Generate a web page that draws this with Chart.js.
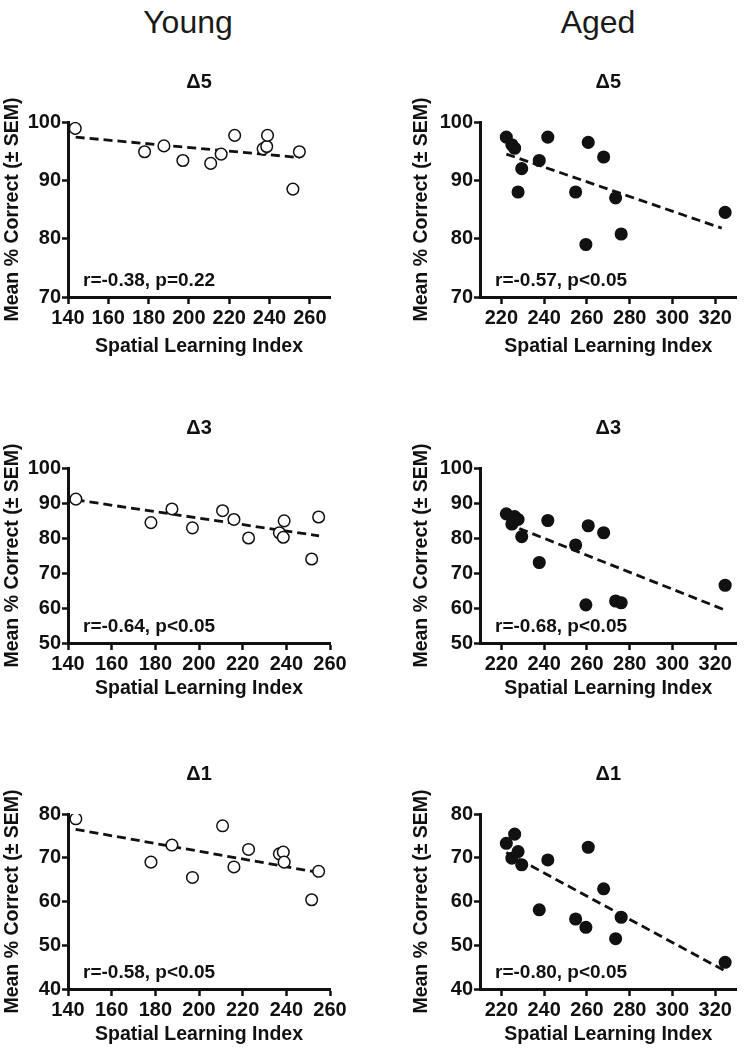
<!DOCTYPE html>
<html>
<head>
<meta charset="utf-8">
<script src="https://cdn.jsdelivr.net/npm/chart.js@4.4.1/dist/chart.umd.min.js"></script>
<style>
  html, body { margin: 0; padding: 0; background: #fff; overflow: hidden; }
  #page { position: relative; width: 744px; height: 1050px; }
  .col-title { position: absolute; top: 6px; font: 32px/32px "Liberation Sans", Arial, sans-serif; color: #1a1a1a; transform: translateX(-50%); }
  canvas { position: absolute; }
</style>
</head>
<body>
<div id="page">
  <div class="col-title" style="left:188px">Young</div>
  <div class="col-title" style="left:598px">Aged</div>
  <canvas id="young5"></canvas>
  <canvas id="aged5"></canvas>
  <canvas id="young3"></canvas>
  <canvas id="aged3"></canvas>
  <canvas id="young1"></canvas>
  <canvas id="aged1"></canvas>
</div>
<script>
// spatial learning index of each rat
const youngX = [143.6, 178.0, 187.6, 197.0, 210.8, 216.0, 222.7, 236.8, 238.6, 239.0, 251.6, 254.8];
const agedX = [222.3, 224.9, 226.2, 227.8, 229.5, 237.7, 241.7, 254.7, 259.5, 260.6, 267.8, 273.4, 276.0, 324.6];

// mean % correct per delay
const youngD5 = [98.9, 94.9, 95.9, 93.4, 92.9, 94.5, 97.7, 95.4, 95.8, 97.7, 88.5, 94.9];
const youngD3 = [91.1, 84.4, 88.3, 82.9, 87.8, 85.3, 80.0, 81.5, 80.2, 84.9, 74.0, 86.0];
const youngD1 = [78.9, 69.0, 72.9, 65.5, 77.3, 67.9, 71.9, 70.9, 71.3, 69.0, 60.4, 66.9];
const agedD5 = [97.4, 96.1, 95.5, 88.0, 92.0, 93.4, 97.4, 88.0, 79.0, 96.5, 94.0, 87.0, 80.8, 84.5];
const agedD3 = [86.9, 84.0, 86.1, 85.3, 80.4, 73.0, 85.0, 78.0, 60.9, 83.5, 81.5, 62.0, 61.5, 66.5];
const agedD1 = [73.3, 69.9, 75.4, 71.4, 68.4, 58.1, 69.5, 56.0, 54.1, 72.4, 62.9, 51.5, 56.4, 46.1];

// regression line end points
const youngFitX5 = [143.8, 255.0], youngFitY5 = [97.4, 93.9];
const youngFitX3 = [143.5, 255.0], youngFitY3 = [90.9, 80.6];
const youngFitX1 = [143.5, 254.0], youngFitY1 = [76.5, 66.7];
const agedFitX5 = [222.3, 323.0], agedFitY5 = [94.5, 81.8];
const agedFitX3 = [222.3, 325.0], agedFitY3 = [84.2, 59.3];
const agedFitX1 = [222.3, 325.0], agedFitY1 = [71.2, 44.0];

// ticks and labels
const youngXTicks = [140, 160, 180, 200, 220, 240, 260];
const agedXTicks = [220, 240, 260, 280, 300, 320];
const yTicksD5 = [70, 80, 90, 100];
const yTicksD3 = [50, 60, 70, 80, 90, 100];
const yTicksD1 = [40, 50, 60, 70, 80];
const delayTitles = ['\u03945', '\u03943', '\u03941'];
const youngStats = ['r=-0.38, p=0.22', 'r=-0.64, p<0.05', 'r=-0.58, p<0.05'];
const agedStats = ['r=-0.57, p<0.05', 'r=-0.68, p<0.05', 'r=-0.80, p<0.05'];

const FONT = '"Liberation Sans", Arial, Helvetica, sans-serif';
const INK = '#111';
Chart.defaults.font.family = FONT;
Chart.defaults.color = INK;

// draws the Δ title above the plot and the r/p note inside it
const panelText = {
  id: 'panelText',
  afterDraw(chart, args, opts) {
    const { ctx, chartArea } = chart;
    ctx.save();
    ctx.fillStyle = INK;
    ctx.textBaseline = 'middle';
    ctx.textAlign = 'center';
    ctx.font = 'bold 20px ' + FONT;
    ctx.fillText(opts.title, (chartArea.left + chartArea.right) / 2, chartArea.top - 40);
    ctx.textAlign = 'left';
    ctx.font = 'bold 19px ' + FONT;
    ctx.fillText(opts.stat, chartArea.left + 15, chartArea.bottom - 16);
    ctx.restore();
  }
};

function axisStyle(tickLength, tickPad) {
  return {
    grid: { drawOnChartArea: false, drawTicks: true, tickLength: tickLength, tickWidth: 2.5, tickColor: INK },
    border: { display: true, color: INK, width: 3 },
    ticks: { padding: tickPad, color: INK, font: { size: 20, weight: 'bold' }, maxRotation: 0, autoSkip: false }
  };
}

function makePanel(id, p) {
  const canvas = document.getElementById(id);
  canvas.width = p.w;
  canvas.height = p.h;
  canvas.style.left = p.left + 'px';
  canvas.style.top = p.top + 'px';

  const xAxis = axisStyle(7, 2);
  const yAxis = axisStyle(6, 1);

  new Chart(canvas, {
    type: 'scatter',
    data: {
      datasets: [
        {
          data: p.xs.map((x, i) => ({ x: x, y: p.ys[i] })),
          pointRadius: 5.8,
          pointHoverRadius: 5.8,
          pointBackgroundColor: p.filled ? INK : '#fff',
          pointBorderColor: INK,
          pointBorderWidth: 1.5,
          order: 1
        },
        {
          type: 'line',
          data: p.fitX.map((x, i) => ({ x: x, y: p.fitY[i] })),
          borderColor: INK,
          borderWidth: 2.8,
          borderDash: [9, 5],
          pointRadius: 0,
          fill: false,
          order: 2
        }
      ]
    },
    options: {
      responsive: false,
      animation: false,
      events: [],
      layout: { padding: { top: 60, left: 0, right: p.padRight, bottom: 0 } },
      plugins: {
        legend: { display: false },
        tooltip: { enabled: false },
        panelText: { title: p.title, stat: p.stat }
      },
      scales: {
        x: {
          type: 'linear',
          position: 'bottom',
          min: p.xMin,
          max: p.xMax,
          grid: xAxis.grid,
          border: xAxis.border,
          ticks: xAxis.ticks,
          afterBuildTicks: s => { s.ticks = p.xTicks.map(v => ({ value: v })); },
          afterFit: s => { s.height = p.xH; },
          title: { display: true, text: 'Spatial Learning Index', color: INK, font: { size: 19.5, weight: 'bold' }, padding: { top: 0, bottom: 0 } }
        },
        y: {
          type: 'linear',
          position: 'left',
          min: p.yMin,
          max: p.yMax,
          grid: yAxis.grid,
          border: yAxis.border,
          ticks: yAxis.ticks,
          afterBuildTicks: s => { s.ticks = p.yTicks.map(v => ({ value: v })); },
          afterFit: s => { s.width = p.yW; },
          title: { display: true, text: 'Mean % Correct (\u00b1 SEM)', color: INK, font: { size: 19.5, weight: 'bold' }, padding: { top: p.yTitlePad, bottom: 0 } }
        }
      }
    },
    plugins: [panelText]
  });
}

const plotTops = [122, 468, 814];
const rows = [
  { yMin: 70, yMax: 100, yTicks: yTicksD5, young: youngD5, aged: agedD5,
    yFX: youngFitX5, yFY: youngFitY5, aFX: agedFitX5, aFY: agedFitY5, youngMax: 270, xH: 61 },
  { yMin: 50, yMax: 100, yTicks: yTicksD3, young: youngD3, aged: agedD3,
    yFX: youngFitX3, yFY: youngFitY3, aFX: agedFitX3, aFY: agedFitY3, youngMax: 260, xH: 57 },
  { yMin: 40, yMax: 80, yTicks: yTicksD1, young: youngD1, aged: agedD1,
    yFX: youngFitX1, yFY: youngFitY1, aFX: agedFitX1, aFY: agedFitY1, youngMax: 260, xH: 57 }
];
const ids = [['young5', 'aged5'], ['young3', 'aged3'], ['young1', 'aged1']];

rows.forEach((r, i) => {
  const top = plotTops[i] - 60;
  const h = 60 + 175 + r.xH;
  makePanel(ids[i][0], {
    left: 0, top: top, w: 350, h: h, padRight: 20, yW: 68, yTitlePad: 1, xH: r.xH,
    xMin: 140, xMax: r.youngMax, xTicks: youngXTicks,
    yMin: r.yMin, yMax: r.yMax, yTicks: r.yTicks,
    xs: youngX, ys: r.young, fitX: r.yFX, fitY: r.yFY, filled: false,
    title: delayTitles[i], stat: youngStats[i]
  });
  makePanel(ids[i][1], {
    left: 407, top: top, w: 337, h: h, padRight: 2, yW: 73, yTitlePad: 3, xH: r.xH,
    xMin: 210, xMax: 330, xTicks: agedXTicks,
    yMin: r.yMin, yMax: r.yMax, yTicks: r.yTicks,
    xs: agedX, ys: r.aged, fitX: r.aFX, fitY: r.aFY, filled: true,
    title: delayTitles[i], stat: agedStats[i]
  });
});
</script>
</body>
</html>
